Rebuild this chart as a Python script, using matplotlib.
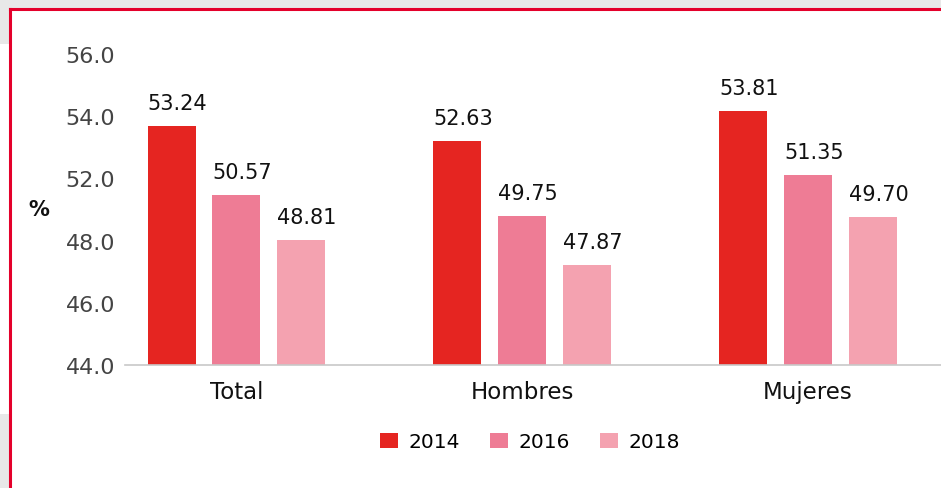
import matplotlib.pyplot as plt
from matplotlib.patches import Rectangle
from matplotlib.lines import Line2D
import numpy as np

categories = ['Total', 'Hombres', 'Mujeres']
years = ['2014', '2016', '2018']
values = {'2014': [53.24, 52.63, 53.81],
          '2016': [50.57, 49.75, 51.35],
          '2018': [48.81, 47.87, 49.70]}
colors = {'2014': '#e52521', '2016': '#ee7c95', '2018': '#f4a2b0'}
ytick_labels = ['44.0', '46.0', '48.0', '52.0', '54.0', '56.0']

plt.rcParams['font.family'] = ['DejaVu Sans']

fig = plt.figure(figsize=(9.41, 4.89), dpi=100)
fig.patch.set_facecolor('white')

# page background bits and red frame
fig.patches.append(Rectangle((0, 1 - 9 / 489), 1, 9 / 489, transform=fig.transFigure,
                             facecolor='#e8e8e8', edgecolor='none', zorder=0))
fig.patches.append(Rectangle((0, 1 - 45 / 489), 9 / 941, 45 / 489, transform=fig.transFigure,
                             facecolor='#e8e8e8', edgecolor='none', zorder=0))
fig.patches.append(Rectangle((0, 0), 9 / 941, 1 - 415 / 489, transform=fig.transFigure,
                             facecolor='#e8e8e8', edgecolor='none', zorder=0))
fig.lines.append(Line2D([10 / 941, 10 / 941], [0, 1 - 10 / 489], transform=fig.transFigure,
                        color='#e4002b', linewidth=2.2))
fig.lines.append(Line2D([10 / 941, 1], [1 - 10 / 489, 1 - 10 / 489], transform=fig.transFigure,
                        color='#e4002b', linewidth=2.2))

ax = fig.add_axes([125 / 941, 1 - 366 / 489, 1 - 125 / 941, (366 - 55) / 489])
ax.set_facecolor('none')

x = np.arange(len(categories))
width = 0.168
offset = 0.227
for i, yr in enumerate(years):
    pos = x + (i - 1) * offset
    ax.bar(pos, np.array(values[yr]) - 44, width, bottom=44, color=colors[yr], label=yr, zorder=2)
    for p, v in zip(pos, values[yr]):
        ax.text(p - width / 2, v + 0.5, '{:.2f}'.format(v), ha='left', va='bottom',
                fontsize=15, fontweight='medium', color='#111111')

ax.set_xlim(-0.39, 2.465)
ax.set_ylim(44, 56)
ax.set_yticks(np.linspace(44, 56, 6))
ax.set_yticklabels(ytick_labels)
ax.set_xticks(x)
ax.set_xticklabels(categories)
ax.tick_params(axis='y', length=0, pad=7, labelsize=16, labelcolor='#444444')
ax.tick_params(axis='x', length=0, pad=11, labelsize=16.5, labelcolor='#111111')
for s in ['top', 'right', 'left']:
    ax.spines[s].set_visible(False)
ax.spines['bottom'].set_color('#c8c8c8')
ax.spines['bottom'].set_linewidth(1.2)

fig.text(39 / 941, 1 - 210 / 489, '%', ha='center', va='center', fontsize=15,
         fontweight='semibold', color='#111111')

fig.legend(loc='center', bbox_to_anchor=(530 / 941, 1 - 443 / 489), ncol=3, frameon=False,
           fontsize=14.5, handlelength=0.9, handleheight=0.8, handletextpad=0.5, columnspacing=1.5)

fig.savefig('out.png', dpi=100, facecolor=fig.get_facecolor())
